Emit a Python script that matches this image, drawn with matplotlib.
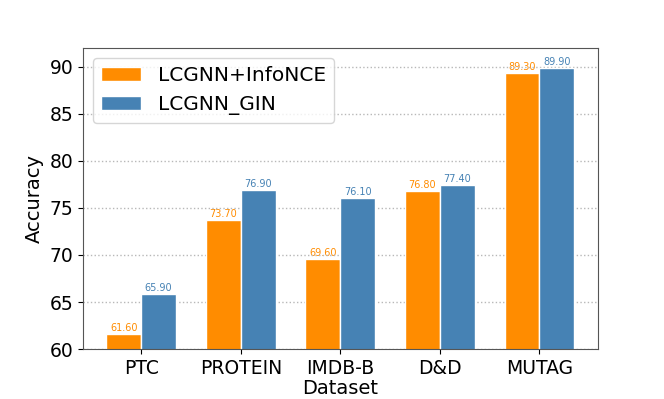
import matplotlib
matplotlib.use("Agg")
import matplotlib.pyplot as plt
import numpy as np

datasets = ["PTC", "PROTEIN", "IMDB-B", "D&D", "MUTAG"]
infonce = [61.6, 73.7, 69.6, 76.8, 89.3]
gin = [65.9, 76.9, 76.1, 77.4, 89.9]

fig = plt.figure(figsize=(6.64, 3.99), dpi=100)
ax = fig.add_axes([0.125, 0.125, 0.775, 0.755])

x = np.arange(len(datasets))
w = 0.35
c1, c2 = "#FF8C00", "#4682B4"
b1 = ax.bar(x - w/2, infonce, w, color=c1, edgecolor="white", linewidth=1, label="LCGNN+InfoNCE", zorder=2)
b2 = ax.bar(x + w/2, gin, w, color=c2, edgecolor="white", linewidth=1, label="LCGNN_GIN", zorder=2)

for bars, vals, c in [(b1, infonce, c1), (b2, gin, c2)]:
    for r, v in zip(bars, vals):
        ax.text(r.get_x() + r.get_width()/2, v + 0.1, f"{v:.2f}", ha="center", va="bottom",
                fontsize=7, color=c, zorder=0.4)

ax.set_ylim(60, 92)
ax.set_yticks([60, 65, 70, 75, 80, 85, 90])
ax.set_xticks(x)
ax.set_xticklabels(datasets)
ax.tick_params(labelsize=13.5)
ax.set_xlabel("Dataset", fontsize=14, labelpad=1)
ax.set_ylabel("Accuracy", fontsize=14)
ax.set_axisbelow(True)
ax.yaxis.grid(True, linestyle=":", color="#b8b8b8", linewidth=1.0)
ax.xaxis.grid(False)
for s in ax.spines.values():
    s.set_color("#555555")
ax.legend(loc="upper left", fontsize=14.5)

fig.savefig("out.png", dpi=100)
